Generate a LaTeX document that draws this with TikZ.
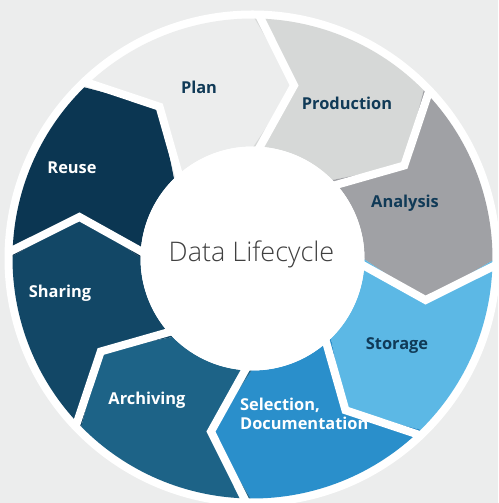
\documentclass[tikz,border=0pt]{standalone}
\usepackage{fontspec}
\setmainfont{Open Sans}
\newfontfamily\lightfont{Open Sans Light}
\definecolor{bgc}{HTML}{ECEDED}
\definecolor{cPlan}{HTML}{ECEDED}
\definecolor{cProd}{HTML}{D6D8D7}
\definecolor{cAna}{HTML}{A0A1A5}
\definecolor{cSto}{HTML}{5CB8E5}
\definecolor{cSel}{HTML}{2A8FCB}
\definecolor{cArc}{HTML}{1D6387}
\definecolor{cSha}{HTML}{124766}
\definecolor{cReu}{HTML}{0B3652}
\definecolor{navy}{HTML}{103A57}
\definecolor{titlec}{HTML}{404040}
\tikzset{
  lbl/.style={font=\fontsize{16.4}{19}\selectfont\bfseries, text=navy, anchor=base, inner sep=0pt},
  wlbl/.style={lbl, text=white},
  gap/.style={draw=white, line width=8pt, line join=miter},
}
\begin{document}
\begin{tikzpicture}[x=1pt,y=1pt]
\fill[bgc] (0,0) rectangle (498,503);
\useasboundingbox (0,0) rectangle (498,503);
\coordinate (C) at (252.5,244.5);
\fill[white] (C) circle (248);
\def\Ro{240}\def\Ri{112}\def\Rt{178}\def\off{13}
\foreach \a/\col in {134.5/cPlan, 89.5/cProd, 44.5/cAna, -0.5/cSto, -45.5/cSel, -90.5/cArc, -135.5/cSha, 179.5/cReu}{
  \pgfmathsetmacro{\b}{\a-45}
  \pgfmathsetmacro{\ta}{\a-\off}
  \pgfmathsetmacro{\tb}{\b-\off}
  \fill[\col] ([shift={(C)}]\a:\Ro) arc[start angle=\a, end angle=\b, radius=\Ro]
    -- ([shift={(C)}]\tb:\Rt) -- ([shift={(C)}]\b:\Ri)
    arc[start angle=\b, end angle=\a, radius=\Ri]
    -- ([shift={(C)}]\ta:\Rt) -- cycle;
}
\begin{scope}
\clip (C) circle (247.5);
\foreach \a in {134.5, 89.5, 44.5, -0.5, -45.5, -90.5, -135.5, 179.5}{
  \pgfmathsetmacro{\ta}{\a-\off}
  \draw[gap] ([shift={(C)}]\a:252) -- ([shift={(C)}]\ta:\Rt) -- ([shift={(C)}]\a:100);
}
\end{scope}
\fill[white] (C) circle (\Ri);
\node (title) [font=\lightfont\fontsize{27}{30}\selectfont, text=titlec, anchor=base, inner sep=0pt] at (251.5,241) {Data Lifecycle};
\node (plan) [lbl] at (199,409.7) {Plan};
\node (prod) [lbl] at (347,393.7) {Production};
\node (ana) [lbl] at (405,295.7) {Analysis};
\node (sto) [lbl] at (397,153.7) {Storage};
\node (sel) [wlbl, anchor=base west, align=left] at (240,73) {Selection,\\Documentation};
\node (arc) [wlbl] at (147,98) {Archiving};
\node (sha) [wlbl] at (60,205.7) {Sharing};
\node (reu) [wlbl] at (72,329.7) {Reuse};
\end{tikzpicture}
\end{document}
